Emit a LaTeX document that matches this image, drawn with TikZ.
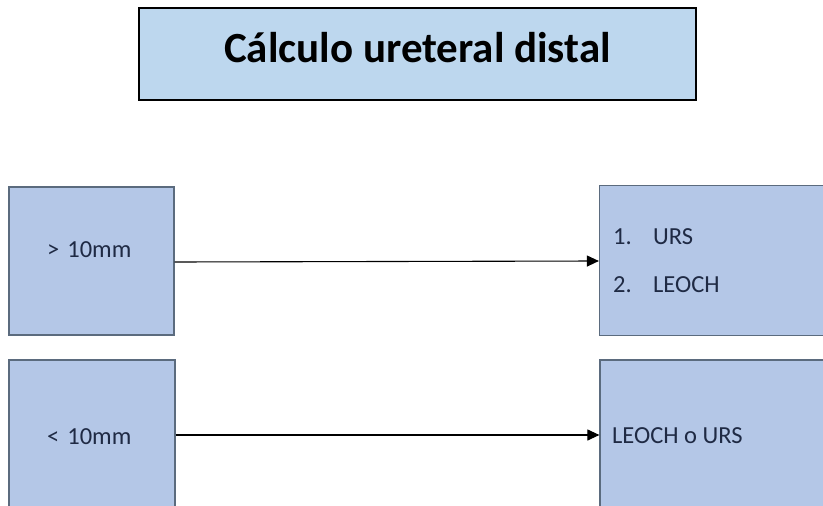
\documentclass[tikz,border=0pt]{standalone}
\usepackage{fontspec}
\setmainfont{Carlito}
\usetikzlibrary{arrows.meta}
\definecolor{titlefill}{HTML}{BDD7EE}
\definecolor{boxfill}{HTML}{B4C7E7}
\definecolor{boxdraw}{HTML}{5B6B7E}
\definecolor{boxtext}{HTML}{1F2A44}
\tikzset{
  box/.style={draw=boxdraw, line width=1.2pt, fill=boxfill, inner sep=0pt},
  boxlabel/.style={text=boxtext, font=\fontsize{24.5}{28}\selectfont, anchor=west, inner sep=0pt},
  conn/.style={draw=black, line width=1.1pt, -{Triangle[length=12pt,width=11pt]}},
}
\begin{document}
\begin{tikzpicture}[x=1pt,y=-1pt]
\useasboundingbox (0,0) rectangle (823,506);
\begin{scope}
\clip (0,0) rectangle (823,506);
\node[draw=black, line width=1.2pt, fill=titlefill, minimum width=557pt, minimum height=92pt, inner sep=0pt] (title) at (417.5,54) {};
\node[box, minimum width=165pt, minimum height=148pt] (big) at (91.5,261) {};
\node[box, minimum width=240pt, minimum height=150pt] (bigres) at (719.5,260.5) {};
\node[box, minimum width=166pt, minimum height=170pt] (small) at (92,445) {};
\node[box, minimum width=240pt, minimum height=170pt] (smallres) at (720,445) {};
\end{scope}
\node[inner sep=0pt, anchor=base, font=\fontsize{43}{48}\selectfont\bfseries] (titletxt) at (417.5,62) {Cálculo ureteral distal};
\node[boxlabel] (bigtxt) at (47,250) {>\hspace{8pt}10mm};
\node[boxlabel] (smalltxt) at (47,437) {<\hspace{8pt}10mm};
\node[boxlabel] (n1) at (613,237) {1.};
\node[boxlabel] (i1) at (653,237) {URS};
\node[boxlabel] (n2) at (613,285) {2.};
\node[boxlabel] (i2) at (653,285) {LEOCH};
\node[boxlabel] (ltxt) at (612,436) {LEOCH o URS};
\draw[conn] (big.east |- 0,262) -- (bigres.west |- 0,261);
\draw[conn] (small.east |- 0,435) -- (smallres.west |- 0,435);
\end{tikzpicture}
\end{document}
